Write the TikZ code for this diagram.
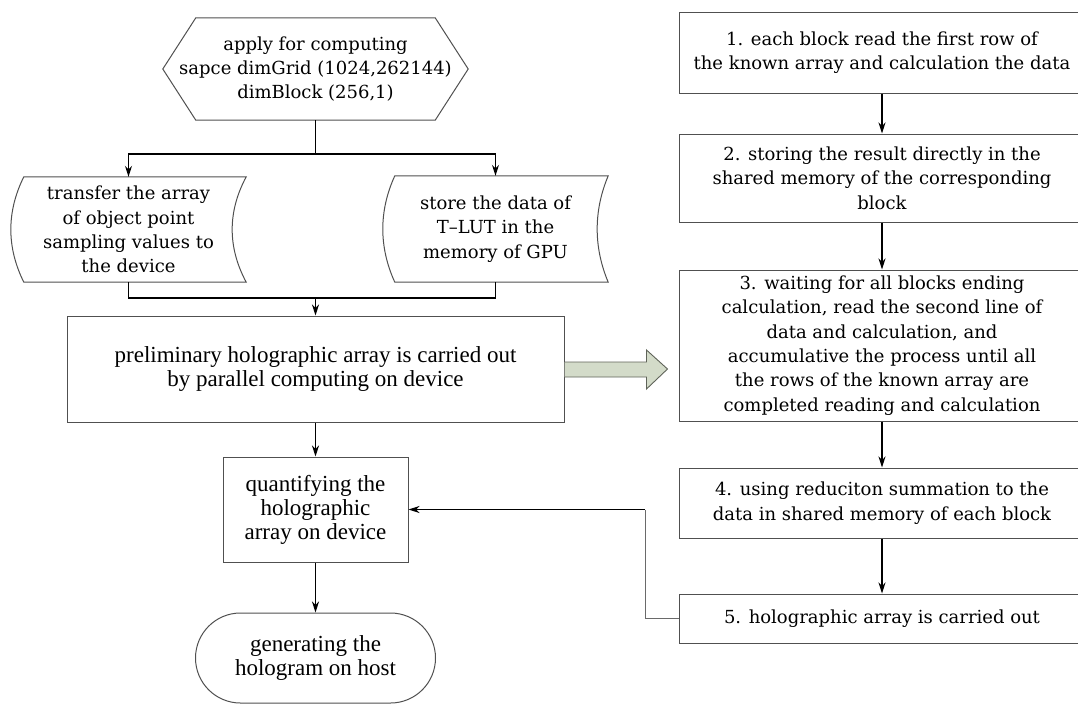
\documentclass[tikz,border=0pt]{standalone}
\usepackage{fontspec}
\setmainfont{DejaVu Serif}
\newfontfamily\condfont{Liberation Serif}
\usetikzlibrary{arrows.meta,calc}
\definecolor{boxgray}{HTML}{505050}
\definecolor{fbgray}{HTML}{6A6A6A}
\definecolor{arrfill}{HTML}{D3DBC9}
\definecolor{arrline}{HTML}{5F6359}
\begin{document}
\begin{tikzpicture}[x=1pt,y=-1pt,
  every node/.style={font=\fontsize{18}{24.4}\selectfont, align=center, inner sep=0pt},
  cond/.style={font=\condfont\fontsize{23}{24}\selectfont},
  box/.style={draw=boxgray, line width=1pt},
  conn/.style={line width=1.15pt, draw=black},
  arr/.style={conn, -{Stealth[length=11pt,width=7pt,inset=3.5pt]}},
]
\useasboundingbox (0,0) rectangle (1078,705);

% ---------- left column ----------
\node[minimum width=305pt, minimum height=102pt] (hex) at (315.5,69)
  {apply for computing\\sapce dimGrid (1024,262144)\\dimBlock (256,1)};
\draw[box] (hex.west) -- ($(hex.north west)+(33,0)$) -- ($(hex.north east)+(-33,0)$)
  -- (hex.east) -- ($(hex.south east)+(-33,0)$) -- ($(hex.south west)+(33,0)$) -- cycle;

\node[minimum width=235pt, minimum height=105pt] (sl) at (128.5,229.5)
  {transfer the array\\of object point\\sampling values to\\the device};
\draw[box] ($(sl.north west)+(13,0)$) -- (sl.north east)
  .. controls ($(sl.north east)+(-18.7,35)$) and ($(sl.south east)+(-18.7,-35)$) .. (sl.south east)
  -- ($(sl.south west)+(13,0)$)
  .. controls ($(sl.south west)+(-4.3,-35)$) and ($(sl.north west)+(-4.3,35)$) .. cycle;

\node[minimum width=225pt, minimum height=106pt] (sr) at (495.5,229)
  {store the data of\\T–LUT in the\\memory of GPU};
\draw[box] ($(sr.north west)+(12,0)$) -- (sr.north east)
  .. controls ($(sr.north east)+(-14.7,35)$) and ($(sr.south east)+(-14.7,-35)$) .. (sr.south east)
  -- ($(sr.south west)+(12,0)$)
  .. controls ($(sr.south west)+(-4,-35)$) and ($(sr.north west)+(-4,35)$) .. cycle;

\node[box, cond, minimum width=497pt, minimum height=106pt] (main) at (315.5,369)
  {preliminary holographic array is carried out\\by parallel computing on device};

\node[box, cond, minimum width=185pt, minimum height=105pt] (quant) at (315.5,509.5)
  {quantifying the\\holographic\\array on device};

\node[box, cond, minimum width=240pt, minimum height=90pt, rounded corners=45pt] (term) at (315.5,658)
  {generating the\\hologram on host};

% connectors left
\coordinate (j1) at (315.5,154);
\draw[conn] (hex.south) -- (j1);
\draw[arr] (j1) -| (sl.north);
\draw[arr] (j1) -| (sr.north);
\coordinate (j2) at (315.5,298);
\draw[conn] (sl.south) |- (j2) -| (sr.south);
\draw[arr] (j2) -- (main.north);
\draw[arr] (main.south) -- (quant.north);
\draw[arr] (quant.south) -- (term.north);

% block arrow
\draw[draw=arrline, fill=arrfill, line width=0.9pt, line join=miter]
  ($(main.east)+(0,-7)$) -- ++(82,0) -- ++(0,-12) -- ++(21,19) -- ++(-21,20) -- ++(0,-12) -- ++(-82,0);

% ---------- right column ----------
\node[box, minimum width=406pt, minimum height=81pt] (b1) at (882,52.5)
  {1. each block read the first row of\\the known array and calculation the data};
\node[box, minimum width=406pt, minimum height=88pt] (b2) at (882,178)
  {2. storing the result directly in the\\shared memory of the corresponding\\block};
\node[box, minimum width=406pt, minimum height=151pt] (b3) at (882,345.5)
  {3. waiting for all blocks ending\\calculation, read the second line of\\data and calculation, and\\accumulative the process until all\\the rows of the known array are\\completed reading and calculation};
\node[box, minimum width=406pt, minimum height=70pt] (b4) at (882,503)
  {4. using reduciton summation to the\\data in shared memory of each block};
\node[box, minimum width=406pt, minimum height=49pt] (b5) at (882,618.5)
  {5. holographic array is carried out};

\draw[arr] (b1.south) -- (b2.north);
\draw[arr] (b2.south) -- (b3.north);
\draw[arr] (b3.south) -- (b4.north);
\draw[arr] (b4.south) -- (b5.north);

% feedback
\coordinate (fb) at (645,509.5);
\draw[conn, draw=fbgray, line width=1pt] (b5.west) -| (fb);
\draw[arr] (fb) -- (quant.east);
\end{tikzpicture}
\end{document}
